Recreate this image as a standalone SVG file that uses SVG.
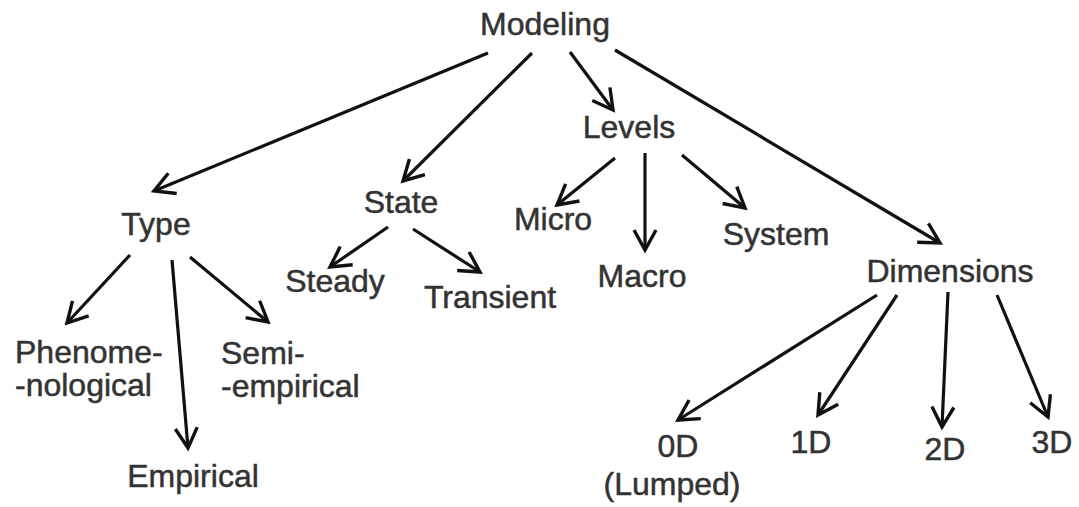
<svg xmlns="http://www.w3.org/2000/svg" width="1079" height="507" viewBox="0 0 1079 507">
<style>
text{font-family:"Liberation Sans",Arial,sans-serif;font-size:32px;fill:#333;stroke:#333;stroke-width:0.5px}
.m{text-anchor:middle}
.s{text-anchor:start}
#connectors line{stroke:#111;stroke-width:3.2;marker-end:url(#v)}
</style>
<defs>
<marker id="v" markerUnits="userSpaceOnUse" markerWidth="30" markerHeight="30" viewBox="-25 -15 30 30" refX="0" refY="0" orient="auto" overflow="visible">
<path d="M-20,-11 L0,0 L-20,11" fill="none" stroke="#111" stroke-width="3.4" stroke-linejoin="miter"/>
</marker>
</defs>
<rect width="1079" height="507" fill="#fff"/>
<g id="connectors">
<line x1="488" y1="53" x2="154" y2="191"/>
<line x1="532" y1="53" x2="403" y2="181"/>
<line x1="570" y1="52" x2="613" y2="110"/>
<line x1="615" y1="50" x2="940" y2="243"/>
<line x1="130" y1="255" x2="67" y2="323"/>
<line x1="172" y1="260" x2="188" y2="448"/>
<line x1="190" y1="257" x2="268" y2="322"/>
<line x1="388" y1="227" x2="330" y2="267"/>
<line x1="413" y1="229" x2="480" y2="272"/>
<line x1="615" y1="158" x2="557" y2="205"/>
<line x1="645" y1="153" x2="645" y2="250"/>
<line x1="682" y1="155" x2="745" y2="208"/>
<line x1="877" y1="295" x2="678" y2="420"/>
<line x1="897" y1="295" x2="818" y2="415"/>
<line x1="948" y1="292" x2="942" y2="427"/>
<line x1="997" y1="295" x2="1048" y2="417"/>
</g>
<g id="modeling"><text class="m" x="545" y="35">Modeling</text></g>
<g id="type"><text class="m" x="156" y="235">Type</text></g>
<g id="state"><text class="m" x="401" y="213">State</text></g>
<g id="levels"><text class="m" x="629" y="138">Levels</text></g>
<g id="dimensions"><text class="m" x="950" y="282">Dimensions</text></g>
<g id="phenomenological"><text class="s" x="15" y="363">Phenome-</text><text class="s" x="15" y="396">-nological</text></g>
<g id="empirical"><text class="m" x="193" y="487">Empirical</text></g>
<g id="semi-empirical"><text class="s" x="221" y="364">Semi-</text><text class="s" x="221" y="397">-empirical</text></g>
<g id="steady"><text class="m" x="335" y="292">Steady</text></g>
<g id="transient"><text class="m" x="490" y="308">Transient</text></g>
<g id="micro"><text class="m" x="553" y="230">Micro</text></g>
<g id="macro"><text class="m" x="642" y="287">Macro</text></g>
<g id="system"><text class="m" x="776" y="245">System</text></g>
<g id="d0"><text class="m" x="678" y="457">0D</text><text class="m" x="672" y="495">(Lumped)</text></g>
<g id="d1"><text class="m" x="811" y="453">1D</text></g>
<g id="d2"><text class="m" x="945" y="460">2D</text></g>
<g id="d3"><text class="m" x="1052" y="453">3D</text></g>
</svg>
